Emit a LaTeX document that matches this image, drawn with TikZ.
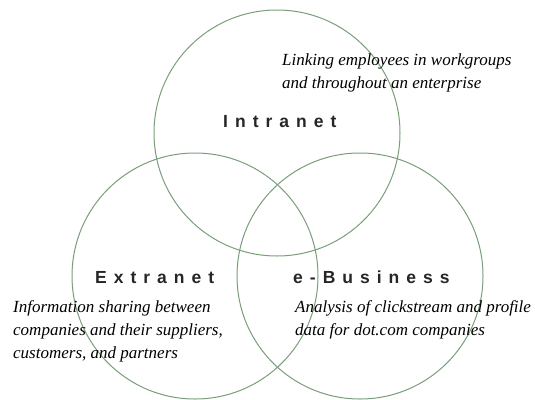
\documentclass[tikz,border=0pt]{standalone}
\usepackage{fontspec}
\setmainfont{Liberation Serif}
\setsansfont{Liberation Sans}
\newfontfamily\widesans[LetterSpace=40]{Liberation Sans}
\definecolor{ringgreen}{RGB}{122,158,122}

\begin{document}
\begin{tikzpicture}[x=1pt, y=-1pt,
			ring/.style={circle, draw=ringgreen, line width=1pt, minimum size=246pt, inner sep=0pt},
			title/.style={font=\widesans\bfseries\fontsize{17.5}{20}\selectfont, text=black!85, anchor=base west, inner sep=0pt},
			blurb/.style={font=\itshape\fontsize{17}{23}\selectfont, align=left, anchor=base west, inner sep=0pt}]
			\useasboundingbox (0,0) rectangle (535,399);
			% the three overlapping rings
			\node[ring] (intra) at (277,133) {};
			\node[ring] (extra) at (195,276) {};
			\node[ring] (ebiz) at (360,276) {};
			% ring titles
			\node[title] (introtitle) at (223,127) {Intranet};
			\node[title] (extratitle) at (95,283) {Extranet};
			\node[title] (ebiztitle) at (293,283) {e-Business};
			% short descriptions (placed by the baseline of their last line)
			\node[blurb] (introtext) at (282,88) {Linking employees in workgroups\\and throughout an enterprise};
			\node[blurb] (extratext) at (13,358) {Information sharing between\\companies and their suppliers,\\customers, and partners};
			\node[blurb] (ebiztext) at (295,335) {Analysis of clickstream and profile\\data for dot.com companies};
		\end{tikzpicture}
\end{document}
